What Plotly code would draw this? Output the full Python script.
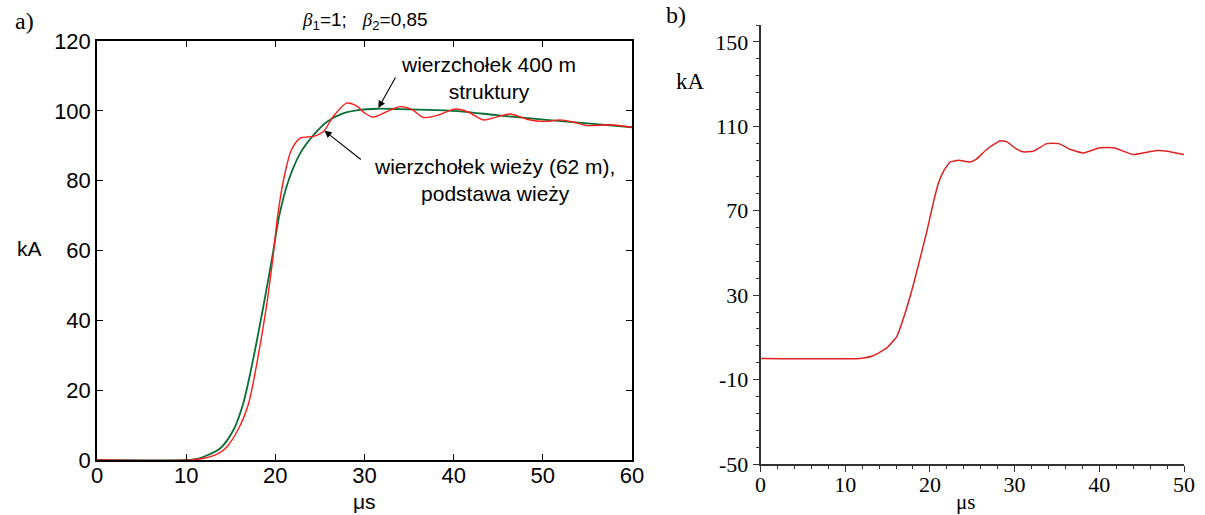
import plotly.graph_objects as go

# ---- panel a): current waveforms at the 400 m structure top and at the tower ----
t_a_green = [0, 10, 11.5, 12.5, 13.8, 15.3, 16.4, 17.5, 18.65, 19.6, 20.5, 21.5, 22.8,
             24.3, 25.8, 27.6, 29.5, 31.5, 34, 38, 41, 45, 50.4, 55, 60]
i_a_green = [0, 0, 0.5, 1.5, 3.3, 8.6, 16.2, 28.7, 43.9, 57.3, 70.7, 80.2, 87.9,
             93.1, 96.9, 99.3, 100.3, 100.6, 100.5, 100.2, 99.8, 98.7, 97.4, 96.4, 95.3]

t_a_red = [0, 10.5, 12, 13.4, 14.4, 15.8, 17.0, 18.0, 19.0, 19.7, 20.3, 21.0, 21.8, 22.8,
           23.6, 24.3, 25.4, 26.5, 28.0, 29.1, 30.0, 31.0, 32.5, 34.0, 35.3, 36.6, 38.3,
           40.1, 41.7, 43.3, 44.8, 46.3, 48.2, 49.3, 50.6, 51.9, 53.4, 54.9, 57.5, 60]
i_a_red = [0, 0, 0.5, 1.6, 3.3, 8.6, 16.2, 28.7, 43.9, 57.3, 70.7, 81.2, 88.8, 92.2,
           92.5, 92.7, 94.1, 98.4, 102.2, 101.4, 99.4, 98.2, 99.8, 101.2, 100.4, 98.1, 98.8,
           100.5, 99.6, 97.4, 98.2, 99.1, 97.6, 97.1, 97.0, 97.4, 96.8, 95.8, 96.0, 95.3]

# ---- panel b): measured current ----
t_b = [0, 11.7, 13.3, 14.9, 16.1, 17.2, 18.0, 18.8, 19.6, 20.4, 21.0, 21.6, 22.4, 23.4,
       24.7, 25.5, 26.7, 28.3, 29.1, 30.2, 31.0, 32.2, 33.8, 35.2, 36.6, 38.1, 40.1,
       41.7, 44.0, 45.6, 46.8, 48.0, 50.0]
i_b = [0, 0, 1.3, 5.0, 10.5, 23.1, 34.2, 46.8, 59.5, 73.7, 83.0, 88.7, 93.1, 93.9,
       93.1, 94.5, 99.0, 103.2, 102.6, 99.3, 97.9, 98.2, 101.8, 101.8, 99.0, 97.4, 99.8,
       99.8, 96.6, 97.7, 98.5, 98.2, 96.6]

b_ytick_vals = [-50, -10, 30, 70, 110, 150]
b_ytick_text = ["-50", "-10", "30", "70", "110", "150"]

W, H = 1205, 515
SANS = "Liberation Sans, Arial, sans-serif"
SERIF = "Liberation Serif, Times New Roman, serif"


def px(x):
    return x / W


def py(y):
    return 1 - y / H


fig = go.Figure()

fig.add_trace(go.Scatter(x=t_a_green, y=i_a_green, mode="lines",
                         line=dict(color="#0a6f36", width=1.8, shape="spline", smoothing=0.8),
                         xaxis="x", yaxis="y", showlegend=False))
fig.add_trace(go.Scatter(x=t_a_red, y=i_a_red, mode="lines",
                         line=dict(color="#ff1a1a", width=1.4, shape="spline", smoothing=0.8),
                         xaxis="x", yaxis="y", showlegend=False))
fig.add_trace(go.Scatter(x=t_b, y=i_b, mode="lines",
                         line=dict(color="#dd2222", width=1.5, shape="spline", smoothing=0.4),
                         xaxis="x2", yaxis="y2", showlegend=False))

axis_a = dict(showline=True, linecolor="black", linewidth=1.5, mirror="ticks",
              ticks="inside", ticklen=6, tickwidth=1.2, tickcolor="black",
              showgrid=False, zeroline=False, automargin=False,
              tickfont=dict(family=SANS, size=22, color="black"))
axis_b = dict(showline=True, linecolor="#333333", linewidth=1.6,
              ticks="outside", ticklen=6, tickwidth=1.4, tickcolor="#333333",
              showgrid=False, zeroline=False, automargin=False,
              tickfont=dict(family=SERIF, size=22, color="black"))

fig.update_layout(
    width=W, height=H,
    margin=dict(l=0, r=0, t=0, b=0, pad=0),
    paper_bgcolor="white", plot_bgcolor="white",
    xaxis=dict(axis_a, domain=[px(97), px(632)], range=[0, 60], dtick=10, tick0=0,
               anchor="y", ticklabelstandoff=-5),
    yaxis=dict(axis_a, domain=[py(460), py(41)], range=[0, 120], dtick=20, tick0=0,
               anchor="x"),
    xaxis2=dict(axis_b, domain=[px(760.5), px(1184)], range=[0, 50], dtick=10, tick0=0,
                anchor="y2", ticklabelstandoff=-6,
                minor=dict(dtick=2, tick0=0, ticklen=3, tickwidth=1.2,
                           tickcolor="#333333", ticks="outside")),
    yaxis2=dict(axis_b, domain=[py(464), py(25)], range=[-50, 158], tickmode="array",
                tickvals=b_ytick_vals, ticktext=b_ytick_text, anchor="x2",
                minor=dict(tickmode="linear", dtick=8, tick0=-50, ticklen=3,
                           tickwidth=1.2, tickcolor="#333333", ticks="outside")),
)

ann = []


def label(x, y, text, family, size, **kw):
    ann.append(dict(x=px(x), y=py(y), xref="paper", yref="paper", text=text,
                    showarrow=False, font=dict(family=family, size=size, color="black"),
                    xanchor=kw.get("xanchor", "center"), yanchor="middle",
                    align=kw.get("align", "center")))


beta = '<span style="font-family:Liberation Serif"><i>β</i></span>'
title = (beta + "<sub>1</sub>=1;\u00a0\u00a0\u00a0" + beta + "<sub>2</sub>=0,85")

label(24, 21, "a)", SERIF, 24)
label(365, 21, title, SANS, 19)
label(30, 249, "kA", SANS, 21)
label(364, 501, "μs", SANS, 21)
label(488, 78, "wierzchołek 400 m<br>struktury", SANS, 21)
label(494, 180, "wierzchołek wieży (62 m),<br>podstawa wieży", SANS, 21)

label(676, 15, "b)", SERIF, 24)
label(690, 81, "kA", SERIF, 23)
label(965, 502, "μs", SERIF, 21)

# arrows pointing at the curves
ann.append(dict(x=31.55, y=100.8, xref="x", yref="y", ax=18, ay=-32,
                axref="pixel", ayref="pixel", text="", showarrow=True,
                arrowhead=2, arrowsize=1.3, arrowwidth=1.1, arrowcolor="black"))
ann.append(dict(x=25.5, y=94.3, xref="x", yref="y", ax=38, ay=30,
                axref="pixel", ayref="pixel", text="", showarrow=True,
                arrowhead=2, arrowsize=1.3, arrowwidth=1.1, arrowcolor="black"))

fig.update_layout(annotations=ann)

fig.write_html("out.html")
